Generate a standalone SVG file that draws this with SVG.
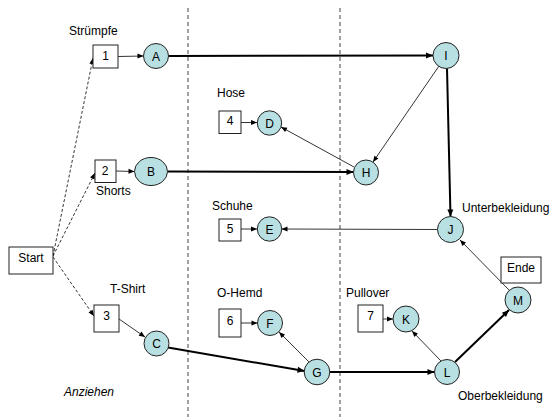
<svg xmlns="http://www.w3.org/2000/svg" width="553" height="417" viewBox="0 0 553 417">
<style>
text{font-family:"Liberation Sans",Arial,sans-serif;font-size:12px;fill:#000}
.c{text-anchor:middle}
.node circle,.node ellipse{fill:#b8dfe1;stroke:#222;stroke-width:1}
.box rect{fill:#fff;stroke:#222;stroke-width:1}
.thin{stroke:#000;stroke-width:0.8;fill:none;marker-end:url(#ah)}
.thick{stroke:#000;stroke-width:2;fill:none;marker-end:url(#ahb)}
.dash{stroke:#000;stroke-width:0.8;fill:none;stroke-dasharray:3 2;marker-end:url(#ah)}
.sep{stroke:#444;stroke-width:1;stroke-dasharray:4 3}
</style>
<defs>
<marker id="ah" markerUnits="userSpaceOnUse" markerWidth="8" markerHeight="8" viewBox="0 0 8 8" refX="7" refY="4" orient="auto"><path d="M1,1.5 L7,4 L1,6.5 Z" fill="#000"/></marker>
<marker id="ahb" markerUnits="userSpaceOnUse" markerWidth="10" markerHeight="10" viewBox="0 0 10 10" refX="9" refY="5" orient="auto"><path d="M2,2 L9,5 L2,8 Z" fill="#000"/></marker>
</defs>
<g id="separators">
<line class="sep" x1="188" y1="8" x2="188" y2="417"/>
<line class="sep" x1="340" y1="8" x2="340" y2="417"/>
</g>
<g id="labels">
<text x="69" y="35">Strümpfe</text>
<text x="96" y="195">Shorts</text>
<text x="110" y="293">T-Shirt</text>
<text x="217" y="97">Hose</text>
<text x="212" y="210">Schuhe</text>
<text x="217" y="297">O-Hemd</text>
<text x="346" y="297">Pullover</text>
<text x="462" y="212">Unterbekleidung</text>
<text x="458" y="400">Oberbekleidung</text>
<text x="64" y="396" font-style="italic">Anziehen</text>
</g>
<g id="connectors">
<line class="dash" x1="53" y1="256" x2="93" y2="58"/>
<line class="dash" x1="53" y1="256" x2="95" y2="173"/>
<line class="dash" x1="53" y1="257" x2="94" y2="316"/>
<line class="thin" x1="118" y1="56.5" x2="143.5" y2="56"/>
<line class="thin" x1="116" y1="171" x2="134.5" y2="171.5"/>
<line class="thin" x1="119" y1="319" x2="145" y2="337"/>
<line class="thin" x1="241" y1="122.5" x2="257" y2="122.5"/>
<line class="thin" x1="241" y1="229" x2="257" y2="229"/>
<line class="thin" x1="241" y1="323" x2="257.5" y2="323"/>
<line class="thin" x1="383" y1="319" x2="393" y2="319"/>
<line class="thick" x1="168.5" y1="56" x2="433" y2="55.5"/>
<line class="thick" x1="167.5" y1="171.5" x2="353.5" y2="172"/>
<line class="thin" x1="439" y1="66" x2="373" y2="162"/>
<line class="thin" x1="354" y1="167" x2="281" y2="127"/>
<line class="thick" x1="447" y1="68.5" x2="450.5" y2="216.5"/>
<line class="thin" x1="437.5" y1="229.5" x2="281.5" y2="229"/>
<line class="thin" x1="509" y1="290" x2="460" y2="240"/>
<line class="thick" x1="455" y1="362" x2="509" y2="310"/>
<line class="thin" x1="441" y1="361" x2="412" y2="331"/>
<line class="thin" x1="309" y1="362" x2="279" y2="332"/>
<line class="thick" x1="168" y1="347.5" x2="304.5" y2="371"/>
<line class="thick" x1="330" y1="372" x2="434.5" y2="372"/>
</g>
<g id="start" class="box"><rect x="9" y="247" width="44" height="27"/><text class="c" x="31" y="262">Start</text></g>
<g id="ende" class="box"><rect x="501" y="257" width="40" height="26"/><text class="c" x="521" y="272">Ende</text></g>
<g id="box1" class="box"><rect x="93" y="45" width="25" height="23"/><text class="c" x="105.5" y="60">1</text></g>
<g id="box2" class="box"><rect x="95" y="160" width="21" height="22.5"/><text class="c" x="105" y="175">2</text></g>
<g id="box3" class="box"><rect x="94" y="305" width="25" height="27"/><text class="c" x="106.5" y="320">3</text></g>
<g id="box4" class="box"><rect x="219" y="111" width="22" height="22.5"/><text class="c" x="230" y="125">4</text></g>
<g id="box5" class="box"><rect x="219" y="219" width="22" height="22"/><text class="c" x="230" y="233">5</text></g>
<g id="box6" class="box"><rect x="219" y="309" width="22" height="28"/><text class="c" x="230" y="325">6</text></g>
<g id="box7" class="box"><rect x="358" y="305" width="25" height="27"/><text class="c" x="370.5" y="320">7</text></g>
<g id="nodeA" class="node"><circle cx="156" cy="56" r="12.5"/><text class="c" x="156" y="60.5">A</text></g>
<g id="nodeB" class="node"><ellipse cx="151" cy="171.5" rx="16.5" ry="14"/><text class="c" x="151" y="176">B</text></g>
<g id="nodeC" class="node"><circle cx="156.5" cy="343.5" r="12.5"/><text class="c" x="156.5" y="348">C</text></g>
<g id="nodeD" class="node"><circle cx="269.5" cy="123" r="12.2"/><text class="c" x="269.5" y="127.5">D</text></g>
<g id="nodeE" class="node"><circle cx="269.5" cy="229" r="12.2"/><text class="c" x="269.5" y="233.5">E</text></g>
<g id="nodeF" class="node"><circle cx="270" cy="323" r="12.5"/><text class="c" x="270" y="327.5">F</text></g>
<g id="nodeG" class="node"><circle cx="317" cy="372" r="12.8"/><text class="c" x="317" y="376.5">G</text></g>
<g id="nodeH" class="node"><circle cx="366" cy="172.5" r="12.5"/><text class="c" x="366" y="177">H</text></g>
<g id="nodeI" class="node"><circle cx="446" cy="55.5" r="13"/><text class="c" x="446" y="60">I</text></g>
<g id="nodeJ" class="node"><circle cx="450.5" cy="229.5" r="13"/><text class="c" x="450.5" y="234">J</text></g>
<g id="nodeK" class="node"><circle cx="406" cy="319" r="13"/><text class="c" x="406" y="323.5">K</text></g>
<g id="nodeL" class="node"><circle cx="447" cy="372" r="12.5"/><text class="c" x="447" y="376.5">L</text></g>
<g id="nodeM" class="node"><circle cx="518" cy="300" r="13"/><text class="c" x="518" y="304.5">M</text></g>
</svg>
